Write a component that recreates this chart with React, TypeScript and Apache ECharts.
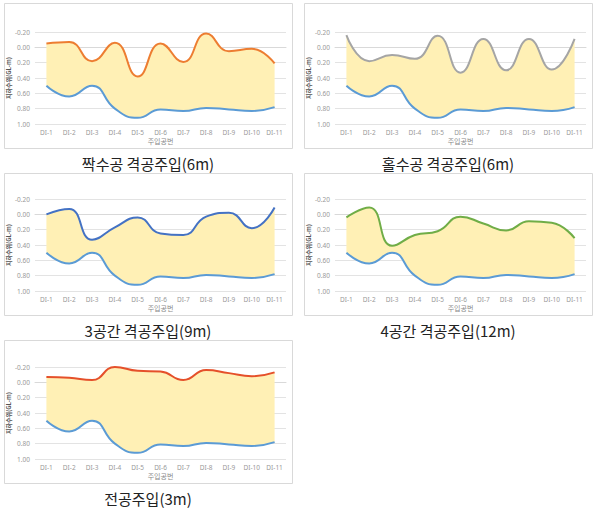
import React, { useEffect, useRef } from "react";
import * as echarts from "echarts";

const categories = ["DI-1", "DI-2", "DI-3", "DI-4", "DI-5", "DI-6", "DI-7", "DI-8", "DI-9", "DI-10", "DI-11"];
const baseLevel = [0.5, 0.64, 0.5, 0.8, 0.92, 0.81, 0.83, 0.79, 0.81, 0.83, 0.78];
const evenHole6m = [-0.05, -0.07, 0.18, -0.06, 0.38, -0.05, 0.19, -0.18, 0.05, 0.02, 0.21];
const oddHole6m = [-0.16, 0.18, 0.1, 0.15, -0.15, 0.33, -0.11, 0.3, -0.11, 0.29, -0.11];
const space3_9m = [0.0, -0.07, 0.33, 0.17, 0.04, 0.25, 0.27, 0.03, -0.02, 0.18, -0.09];
const space4_12m = [0.04, -0.09, 0.41, 0.27, 0.22, 0.03, 0.12, 0.21, 0.09, 0.11, 0.31];
const full3m = [-0.07, -0.06, -0.03, -0.2, -0.15, -0.14, -0.03, -0.16, -0.12, -0.08, -0.13];
const titles = ["짝수공 격공주입(6m)", "홀수공 격공주입(6m)", "3공간 격공주입(9m)", "4공간 격공주입(12m)", "전공주입(3m)"];
const yAxisName = "지하수위(GL-m)";
const xAxisName = "주입공번";

const panelSeries = [evenHole6m, oddHole6m, space3_9m, space4_12m, full3m];
const lineColors = ["#ed7d31", "#a5a5a5", "#4472c4", "#70ad47", "#e5502a"];

// panel layout: [panelLeft, panelTop, panelHeight, gridTop]
const layout = [
  [4, 3, 145, 32, 163],
  [304, 3, 145, 32, 163],
  [4, 173, 142, 199, 330],
  [304, 173, 142, 199, 330],
  [4, 340, 143, 367, 498],
];

export default function App() {
  const ref = useRef<HTMLDivElement>(null);
  useEffect(() => {
    if (!ref.current) return;
    const chart = echarts.init(ref.current, undefined, { renderer: "svg" });
    const grids: any[] = [];
    const xAxes: any[] = [];
    const yAxes: any[] = [];
    const series: any[] = [];
    const graphics: any[] = [];
    layout.forEach((l, i) => {
      const [px, py, ph, gt, capY] = l;
      graphics.push({
        type: "rect",
        shape: { x: px + 0.5, y: py + 0.5, width: 288, height: ph },
        style: { fill: "none", stroke: "#d9d9d9", lineWidth: 1 },
        z: -1,
      });
      graphics.push({
        type: "text",
        x: px + 144,
        y: capY,
        style: {
          text: titles[i],
          fontSize: 15,
          fontFamily: "Noto Sans CJK KR",
          fill: "#222",
          align: "center",
          verticalAlign: "middle",
        },
      });
      grids.push({ left: px + 31, top: gt, width: 251, height: 92 });
      xAxes.push({
        type: "category",
        gridIndex: i,
        data: categories,
        boundaryGap: true,
        axisLine: { lineStyle: { color: "#d9d9d9" } },
        axisTick: { show: false },
        axisLabel: { fontSize: 6.5, color: "#999", margin: 5, interval: 0, fontFamily: "Noto Sans" },
        name: xAxisName,
        nameLocation: "middle",
        nameGap: 13,
        nameTextStyle: { fontSize: 7, color: "#888", fontFamily: "Noto Sans CJK KR" },
      });
      yAxes.push({
        type: "value",
        gridIndex: i,
        inverse: true,
        min: -0.2,
        max: 1.0,
        interval: 0.2,
        axisLine: { show: false },
        axisTick: { show: false },
        splitLine: { lineStyle: { color: "#e3e3e3", width: 1 } },
        axisLabel: {
          fontSize: 6.5,
          color: "#999",
          margin: 5,
          fontFamily: "Noto Sans",
          formatter: (v: number) => v.toFixed(2),
        },
        name: yAxisName,
        nameLocation: "middle",
        nameRotate: 90,
        nameGap: 18,
        nameTextStyle: { fontSize: 6, color: "#555", fontWeight: "bold", fontFamily: "Noto Sans CJK KR" },
      });
      const top = panelSeries[i];
      series.push({
        type: "line",
        xAxisIndex: i,
        yAxisIndex: i,
        data: top,
        stack: "s" + i,
        stackStrategy: "all",
        smooth: 0.5,
        showSymbol: false,
        symbol: "none",
        lineStyle: { color: lineColors[i], width: 2 },
        z: 5,
      });
      series.push({
        type: "line",
        xAxisIndex: i,
        yAxisIndex: i,
        data: baseLevel.map((b, k) => +(b - top[k]).toFixed(4)),
        stack: "s" + i,
        stackStrategy: "all",
        smooth: 0.5,
        showSymbol: false,
        symbol: "none",
        lineStyle: { color: "#5b9bd5", width: 2 },
        areaStyle: { color: "#fff0b5", opacity: 1 },
        z: 2,
      });
    });
    chart.setOption({
      animation: false,
      backgroundColor: "#ffffff",
      grid: grids,
      xAxis: xAxes,
      yAxis: yAxes,
      series,
      graphic: graphics,
    });
    return () => chart.dispose();
  }, []);
  return (
    <div
      ref={ref}
      style={{ position: "fixed", left: 0, top: 0, width: 601, height: 510, background: "#fff" }}
    />
  );
}
